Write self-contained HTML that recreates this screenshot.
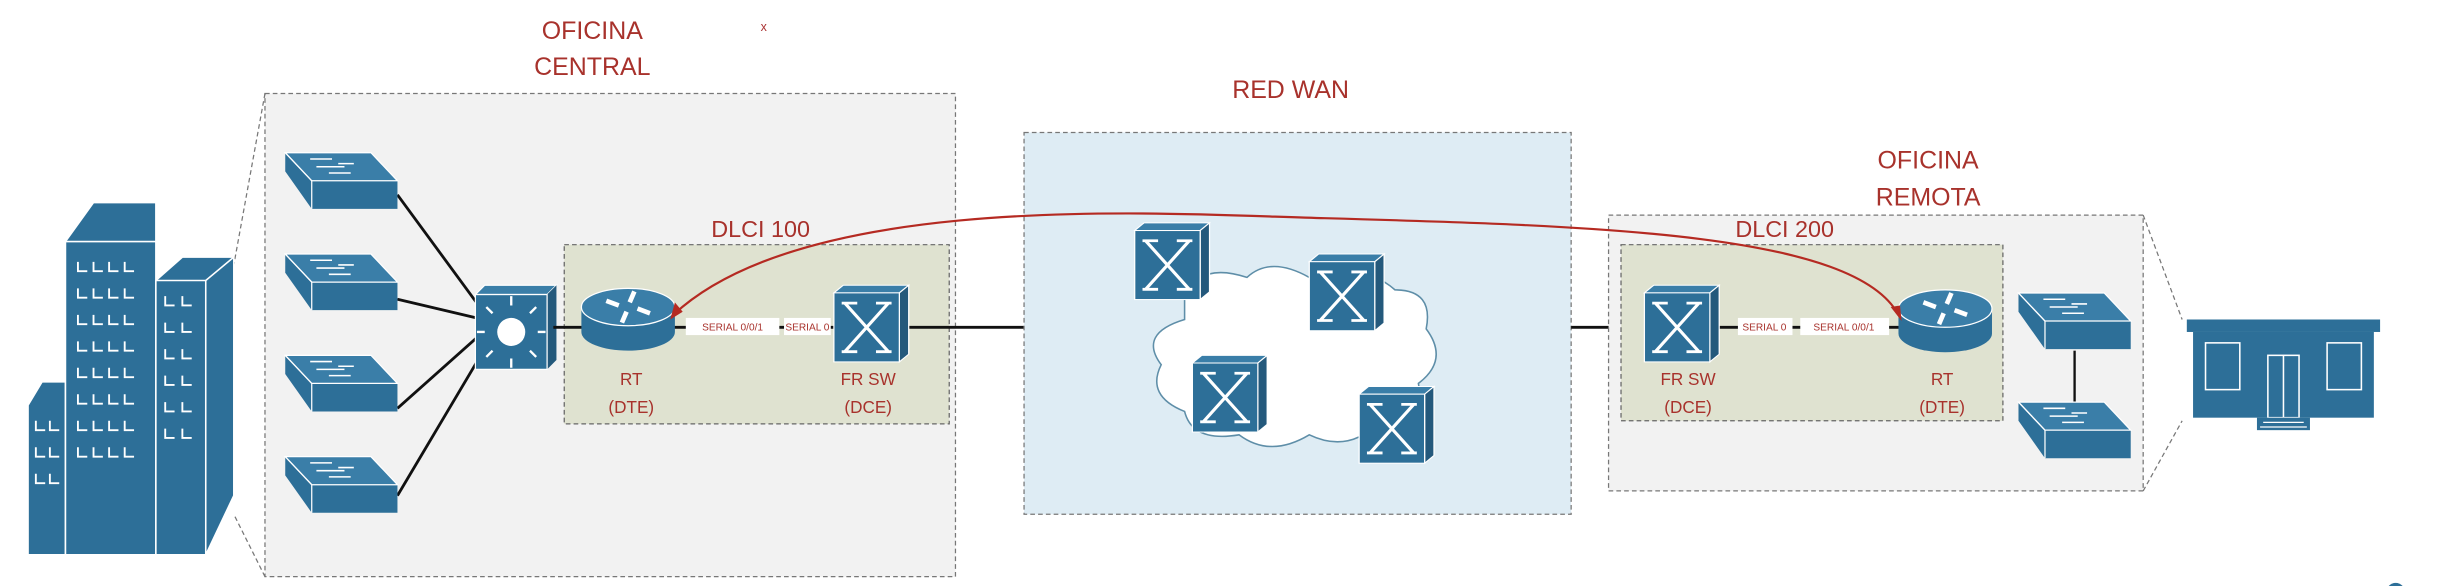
<!DOCTYPE html>
<html><head><meta charset="utf-8"><style>
html,body{margin:0;padding:0;background:#fff;width:2444px;height:586px;overflow:hidden}
svg{display:block}
text{font-family:"Liberation Sans",sans-serif;fill:#a8322c}
</style></head><body>
<svg width="2444" height="586" viewBox="0 0 1568 376" preserveAspectRatio="none" xmlns="http://www.w3.org/2000/svg">
<defs>
<g id="fr0">
 <polygon points="0,6 6,0 48,0 42,6" fill="#3a7ea8" stroke="#fff" stroke-width="0.8"/>
 <polygon points="42,6 48,0 48,54 42,60" fill="#24597c" stroke="#fff" stroke-width="0.8"/>
 <rect x="0" y="6" width="42" height="54" fill="#2d6f98" stroke="#fff" stroke-width="0.8"/>
 <path d="M7,14 Q21,33 35,52 M35,14 Q21,33 7,52 M5,14h10M27,14h10M5,52h10M27,52h10" stroke="#fff" stroke-width="2.2" fill="none"/>
</g>
<g id="fr" transform="scale(1,0.82)"><use href="#fr0"/></g>
<g id="sw">
 <polygon points="0,0 55,0 72,18 72,36 17,36 0,12" fill="#2d6f98"/>
 <polygon points="0,0 55,0 72,18 17,18" fill="#3a7ea8" stroke="#fff" stroke-width="0.8"/>
 <line x1="17" y1="18" x2="17" y2="36" stroke="#fff" stroke-width="0.8"/>
 <line x1="0" y1="0" x2="17" y2="18" stroke="#fff" stroke-width="0.8"/>
 <path d="M16,4h14M20,9h18M28,13h14M34,7h10" stroke="#fff" stroke-width="1"/>
</g>
<g id="rt">
 <path d="M-30,-8 v16 a30,12 0 0 0 60,0 v-16 z" fill="#2d6f98"/>
 <ellipse cx="0" cy="-8" rx="30" ry="12" fill="#3a7ea8" stroke="#fff" stroke-width="0.8"/>
 <path d="M-14,-12 l8,3 M14,-4 l-8,-3 M4,-18 l-3,7 M-4,2 l3,-7" stroke="#fff" stroke-width="3"/>
</g>
</defs>
<text x="380" y="25" font-size="16" text-anchor="middle">OFICINA</text>
<text x="380" y="48" font-size="16" text-anchor="middle">CENTRAL</text>
<text x="490" y="20" font-size="8" text-anchor="middle" style="fill:#a33">x</text>
<rect x="170" y="60" width="443" height="310" fill="#f2f2f2" stroke="#777" stroke-dasharray="3,2" stroke-width="0.8"/>
<line x1="170" y1="60" x2="150" y2="170" stroke="#777" stroke-dasharray="3,2" stroke-width="0.8"/>
<line x1="170" y1="370" x2="150" y2="330" stroke="#777" stroke-dasharray="3,2" stroke-width="0.8"/>
<polygon points="18,260 27,245 42,245 42,356 18,356" fill="#2d6f98" stroke="#fff" stroke-width="1"/>
<polygon points="42,155 60,130 100,130 100,356 42,356" fill="#2d6f98" stroke="#fff" stroke-width="1"/>
<line x1="42" y1="155" x2="100" y2="155" stroke="#fff"/>
<polygon points="100,180 117,165 150,165 150,318 132,356 100,356" fill="#2d6f98" stroke="#fff" stroke-width="1"/>
<line x1="100" y1="180" x2="132" y2="180" stroke="#fff"/><line x1="132" y1="180" x2="150" y2="165" stroke="#fff"/><line x1="132" y1="180" x2="132" y2="356" stroke="#fff"/>
<g stroke="#fff" stroke-width="1.2" fill="none">
<path d="M50,168v6h6M60,168v6h6M70,168v6h6M80,168v6h6M50,185v6h6M60,185v6h6M70,185v6h6M80,185v6h6M50,202v6h6M60,202v6h6M70,202v6h6M80,202v6h6M50,219v6h6M60,219v6h6M70,219v6h6M80,219v6h6M50,236v6h6M60,236v6h6M70,236v6h6M80,236v6h6M50,253v6h6M60,253v6h6M70,253v6h6M80,253v6h6M50,270v6h6M60,270v6h6M70,270v6h6M80,270v6h6M50,287v6h6M60,287v6h6M70,287v6h6M80,287v6h6"/>
<path d="M106,190v6h6M117,190v6h6M106,207v6h6M117,207v6h6M106,224v6h6M117,224v6h6M106,241v6h6M117,241v6h6M106,258v6h6M117,258v6h6M106,275v6h6M117,275v6h6"/>
<path d="M23,270v6h6M32,270v6h6M23,287v6h6M32,287v6h6M23,304v6h6M32,304v6h6"/>
</g>
<g stroke="#111" stroke-width="1.8">
<line x1="255" y1="125" x2="310" y2="200"/><line x1="255" y1="192" x2="310" y2="205"/><line x1="255" y1="262" x2="310" y2="213"/><line x1="255" y1="318" x2="312" y2="222"/>
</g>
<use href="#sw" x="183" y="98"/><use href="#sw" x="183" y="163"/><use href="#sw" x="183" y="228"/><use href="#sw" x="183" y="293"/>
<polygon points="305,189 311,183 357,183 351,189" fill="#3a7ea8" stroke="#fff" stroke-width="0.8"/>
<polygon points="351,189 357,183 357,231 351,237" fill="#24597c"/>
<rect x="305" y="189" width="46" height="48" fill="#2d6f98" stroke="#fff" stroke-width="0.8"/>
<circle cx="328" cy="213" r="9" fill="#fff"/>
<path d="M328,196v-6M328,230v6M311,213h-5M345,213h5M316,201l-4,-4M340,201l4,-4M316,225l-4,4M340,225l4,4" stroke="#fff" stroke-width="1.5"/>
<rect x="362" y="157" width="247" height="115" fill="#dfe2d0" stroke="#666" stroke-dasharray="3,2" stroke-width="0.8"/>
<text x="488" y="152" font-size="15" text-anchor="middle">DLCI 100</text>
<line x1="355" y1="210" x2="657" y2="210" stroke="#111" stroke-width="1.8"/>
<use href="#rt" x="403" y="205"/>
<rect x="440" y="204" width="60" height="11" fill="#fff"/><text x="470" y="212" font-size="6.5" text-anchor="middle">SERIAL 0/0/1</text>
<rect x="503" y="204" width="30" height="11" fill="#fff"/><text x="518" y="212" font-size="6.5" text-anchor="middle">SERIAL 0</text>
<use href="#fr" x="535" y="183"/>
<text x="405" y="247" font-size="11" text-anchor="middle">RT</text><text x="405" y="265" font-size="11" text-anchor="middle">(DTE)</text>
<text x="557" y="247" font-size="11" text-anchor="middle">FR SW</text><text x="557" y="265" font-size="11" text-anchor="middle">(DCE)</text>
<text x="828" y="63" font-size="16" text-anchor="middle">RED WAN</text>
<rect x="657" y="85" width="351" height="245" fill="#deecf4" stroke="#777" stroke-dasharray="3,2" stroke-width="0.8"/>
<line x1="1008" y1="210" x2="1060" y2="210" stroke="#111" stroke-width="1.8"/>
<path d="M760,190 q10,-22 40,-12 q15,-14 40,0 q35,-10 55,8 q25,0 20,25 q15,20 -5,35 q5,25 -25,25 q-20,20 -45,8 q-25,15 -45,0 q-30,5 -35,-15 q-25,-10 -15,-30 q-15,-20 15,-29 z" fill="#fff" stroke="#5e8ea8" stroke-width="1"/>
<use href="#fr" x="728" y="143"/><use href="#fr" x="840" y="163"/><use href="#fr" x="765" y="228"/><use href="#fr" x="872" y="248"/>
<text x="1237" y="108" font-size="16" text-anchor="middle">OFICINA</text>
<text x="1237" y="132" font-size="16" text-anchor="middle">REMOTA</text>
<rect x="1032" y="138" width="343" height="177" fill="#f2f2f2" stroke="#777" stroke-dasharray="3,2" stroke-width="0.8"/>
<line x1="1375" y1="138" x2="1400" y2="205" stroke="#777" stroke-dasharray="3,2" stroke-width="0.8"/>
<line x1="1375" y1="315" x2="1400" y2="270" stroke="#777" stroke-dasharray="3,2" stroke-width="0.8"/>
<rect x="1040" y="157" width="245" height="113" fill="#dfe2d0" stroke="#666" stroke-dasharray="3,2" stroke-width="0.8"/>
<text x="1145" y="152" font-size="15" text-anchor="middle">DLCI 200</text>
<line x1="1100" y1="210" x2="1220" y2="210" stroke="#111" stroke-width="1.8"/>
<use href="#fr" x="1055" y="183"/>
<rect x="1115" y="204" width="35" height="11" fill="#fff"/><text x="1132" y="212" font-size="6.5" text-anchor="middle">SERIAL 0</text>
<rect x="1155" y="204" width="57" height="11" fill="#fff"/><text x="1183" y="212" font-size="6.5" text-anchor="middle">SERIAL 0/0/1</text>
<use href="#rt" x="1248" y="206"/>
<text x="1083" y="247" font-size="11" text-anchor="middle">FR SW</text><text x="1083" y="265" font-size="11" text-anchor="middle">(DCE)</text>
<text x="1246" y="247" font-size="11" text-anchor="middle">RT</text><text x="1246" y="265" font-size="11" text-anchor="middle">(DTE)</text>
<line x1="1331" y1="225" x2="1331" y2="258" stroke="#111" stroke-width="1.5"/>
<use href="#sw" x="1295" y="188"/><use href="#sw" x="1295" y="258"/>
<rect x="1403" y="205" width="124" height="8" fill="#2d6f98"/>
<rect x="1407" y="213" width="116" height="55" fill="#2d6f98"/>
<rect x="1415" y="220" width="22" height="30" fill="none" stroke="#fff" stroke-width="1"/>
<rect x="1493" y="220" width="22" height="30" fill="none" stroke="#fff" stroke-width="1"/>
<rect x="1455" y="228" width="20" height="40" fill="none" stroke="#fff" stroke-width="1"/>
<line x1="1465" y1="228" x2="1465" y2="268" stroke="#fff"/>
<rect x="1448" y="268" width="34" height="8" fill="#2d6f98"/>
<path d="M1452,271h26M1450,274h30" stroke="#fff" stroke-width="0.8"/>
<circle cx="1537" cy="380" r="6" fill="#2d6f98"/>
<path d="M432,202 C520,120 760,138 850,140 C1030,145 1190,150 1218,202" fill="none" stroke="#b52a22" stroke-width="1.4"/>
<polygon points="430,205 433,194 438,200" fill="#b52a22"/>
<polygon points="1220,206 1213,197 1219,196" fill="#b52a22"/>
</svg>
</body></html>
